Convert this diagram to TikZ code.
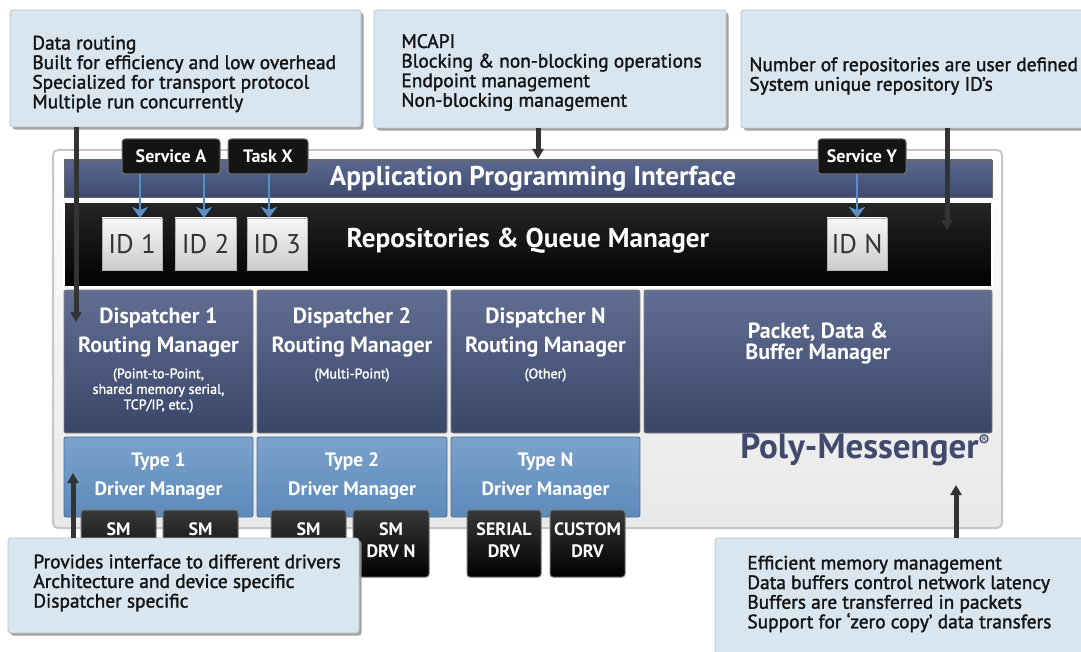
\documentclass[tikz,border=0pt]{standalone}
\usepackage{fontspec}
\setmainfont{PT Sans}
\newfontfamily\semibfont[FakeBold=1.6]{PT Sans}
\usetikzlibrary{fit,arrows.meta,shadows}
\definecolor{calloutfill}{HTML}{D9E6EF}
\definecolor{calloutedge}{HTML}{B8C4CC}
\definecolor{connc}{HTML}{333333}
\definecolor{apitop}{HTML}{5A6890}
\definecolor{apibot}{HTML}{3E4A70}
\definecolor{disptop}{HTML}{616E92}
\definecolor{dispbot}{HTML}{3A4668}
\definecolor{drvtop}{HTML}{7AA2CC}
\definecolor{drvbot}{HTML}{5E8ABA}
\definecolor{arrowblue}{HTML}{5B8EC4}
\definecolor{polyc}{HTML}{3F4A6C}
\definecolor{frameedge}{HTML}{C6C6C6}
\tikzset{
  bx/.style={inner sep=0pt, outer sep=0pt},
  callout/.style={bx, fill=calloutfill, draw=calloutedge, line width=0.4pt, rounded corners=1.5pt,
     drop shadow={shadow xshift=1.3pt, shadow yshift=-1.3pt, fill=black!40, opacity=0.9}},
  calltext/.style={anchor=west, align=left, inner sep=0pt, font=\semibfont\fontsize{9.7}{9.8}\selectfont, text=black!92},
  frame/.style={bx, draw=frameedge, line width=1pt, rounded corners=2.5pt, top color=white, bottom color=black!9},
  apibar/.style={bx, draw=black!60, line width=0.4pt, top color=apitop, bottom color=apibot},
  repobar/.style={bx, draw=white, line width=0.6pt, top color=black!85, bottom color=black},
  idbox/.style={bx, draw=black!30, line width=0.3pt, top color=black!3, bottom color=black!20},
  idtext/.style={inner sep=0pt, font=\fontsize{13.5}{13.5}\selectfont, text=black!80},
  svc/.style={bx, draw=black!55, line width=0.5pt, rounded corners=1.5pt, fill=black!92},
  svctext/.style={inner sep=0pt, text=white, font=\bfseries\fontsize{9}{9}\selectfont},
  disp/.style={bx, draw=black!50, line width=0.4pt, rounded corners=1pt, top color=disptop, bottom color=dispbot},
  drvm/.style={bx, draw=drvbot!80!black, line width=0.4pt, rounded corners=1pt, top color=drvtop, bottom color=drvbot},
  smbox/.style={bx, draw=black!55, line width=0.5pt, rounded corners=1.5pt, top color=black!78, bottom color=black},
  smtext/.style={inner sep=0pt, text=white, align=center, font=\bfseries\fontsize{9}{11}\selectfont},
  wtitle/.style={inner sep=0pt, text=white, font=\bfseries\fontsize{11}{10.5}\selectfont, align=center},
  wsmall/.style={inner sep=0pt, text=white, font=\semibfont\fontsize{7}{7.75}\selectfont, align=center},
  wtype/.style={inner sep=0pt, text=white, font=\bfseries\fontsize{9.7}{9.7}\selectfont},
  bigwhite/.style={inner sep=0pt, text=white, font=\bfseries\fontsize{13.6}{13.6}\selectfont},
  conn/.style={draw=connc, line width=2.5pt, -{Triangle[width=5.5pt,length=5pt]}},
  bluearr/.style={draw=arrowblue, line width=1.2pt, -{Stealth[width=8pt,length=5.5pt,inset=1.5pt]}}
}
\begin{document}
\begin{tikzpicture}[x=0.5pt,y=-0.5pt]
\useasboundingbox (0,0) rectangle (1081,652);
% main frame
\node[frame, fit={(53,150) (1002,528)}] (frame) {};
\node[apibar, fit={(64,160) (992,197)}] (api) {};
\node[bigwhite] (apit) at (533,179) {Application Programming Interface};
\node[repobar, fit={(64,202) (992,287)}] (repo) {};
\node[bigwhite] (repot) at (528,241) {Repositories \& Queue Manager};
% IDs
\node[idbox, fit={(102,218) (162,270)}] (id1) {};
\node[idtext] (id1t) at (id1.center) {ID 1};
\node[idbox, fit={(175,218) (236,270)}] (id2) {};
\node[idtext] (id2t) at (id2.center) {ID 2};
\node[idbox, fit={(247,218) (307,270)}] (id3) {};
\node[idtext] (id3t) at (id3.center) {ID 3};
\node[idbox, fit={(827,218) (887,270)}] (idn) {};
\node[idtext] (idnt) at (idn.center) {ID N};
% services
\node[svc, fit={(122,139) (220,174)}] (sa) {};
\node[svctext] (sat) at (sa.center) {Service A};
\node[svc, fit={(228,139) (308,174)}] (tx) {};
\node[svctext] (txt) at (tx.center) {Task X};
\node[svc, fit={(818,139) (906,174)}] (sy) {};
\node[svctext] (syt) at (sy.center) {Service Y};
\draw[bluearr] (sa.south -| 140,0) -- (id1.north -| 140,0);
\draw[bluearr] (sa.south -| 204,0) -- (id2.north -| 204,0);
\draw[bluearr] (tx.south -| 269,0) -- (id3.north -| 269,0);
\draw[bluearr] (sy.south -| 857,0) -- (idn.north -| 857,0);
% dispatchers
\node[disp, fit={(64,290) (253,433)}] (d1) {};
\node[disp, fit={(257,290) (447,433)}] (d2) {};
\node[disp, fit={(451,290) (640,433)}] (dn) {};
\node[disp, fit={(644,290) (992,433)}] (pk) {};
\node[wtitle] (d1a) at (158.5,318) {Dispatcher 1};
\node[wtitle] (d1b) at (158.5,347) {Routing Manager};
\node[wsmall, anchor=north] (d1c) at (158.5,368) {(Point-to-Point,\\shared memory serial,\\TCP/IP, etc.)};
\node[wtitle] (d2a) at (352,318) {Dispatcher 2};
\node[wtitle] (d2b) at (352,347) {Routing Manager};
\node[wsmall] (d2c) at (352,375) {(Multi-Point)};
\node[wtitle] (dna) at (545.5,318) {Dispatcher N};
\node[wtitle] (dnb) at (545.5,347) {Routing Manager};
\node[wsmall] (dnc) at (545.5,375) {(Other)};
\node[wtitle] (pkt) at (818,343) {Packet, Data \&\\Buffer Manager};
% driver managers
\node[drvm, fit={(64,437) (253,517)}] (t1) {};
\node[drvm, fit={(257,437) (447,517)}] (t2) {};
\node[drvm, fit={(451,437) (640,517)}] (tn) {};
\node[wtype] (t1a) at (158.5,462) {Type 1};
\node[wtype] (t1b) at (158.5,491) {Driver Manager};
\node[wtype] (t2a) at (352,462) {Type 2};
\node[wtype] (t2b) at (352,491) {Driver Manager};
\node[wtype] (tna) at (545.5,462) {Type N};
\node[wtype] (tnb) at (545.5,491) {Driver Manager};
% SM / DRV boxes
\node[smbox, fit={(81,510) (156,577)}] (sm1) {};
\node[smtext] (sm1t) at (118.5,529) {SM};
\node[smbox, fit={(163,510) (238,577)}] (sm2) {};
\node[smtext] (sm2t) at (200.5,529) {SM};
\node[smbox, fit={(271,510) (346,577)}] (sm3) {};
\node[smtext] (sm3t) at (308.5,529) {SM};
\node[smbox, fit={(353,510) (429,577)}] (sm4) {};
\node[smtext] (sm4t) at (391,540) {SM\\DRV N};
\node[smbox, fit={(467,510) (541,577)}] (ser) {};
\node[smtext] (sert) at (504,540) {SERIAL\\DRV};
\node[smbox, fit={(550,510) (625,577)}] (cus) {};
\node[smtext] (cust) at (587.5,540) {CUSTOM\\DRV};
% logo
\node[inner sep=0pt, text=polyc, font=\bfseries\fontsize{17.5}{17.5}\selectfont] (poly) at (865,450) {Poly-Messenger\raisebox{0.7ex}{\fontsize{8}{8}\selectfont ®}};
% callouts
\node[callout, fit={(10,10) (361,127)}] (tl) {};
\node[calltext] (tlt) at (32,74) {Data routing\\Built for efficiency and low overhead\\Specialized for transport protocol\\Multiple run concurrently};
\node[callout, fit={(374,10) (726,128)}] (tm) {};
\node[calltext] (tmt) at (401,72.5) {MCAPI\\Blocking \& non-blocking operations\\Endpoint management\\Non-blocking management};
\node[callout, fit={(741,10) (1095,128)}] (tr) {};
\node[calltext] (trt) at (749,76) {Number of repositories are user defined\\System unique repository ID’s};
\node[callout, fit={(8,538) (359,633)}] (bl) {};
\node[calltext] (blt) at (33,583) {Provides interface to different drivers\\Architecture and device specific\\Dispatcher specific};
\node[callout, fit={(715,538) (1095,665)}] (br) {};
\node[calltext] (brt) at (747,594) {Efficient memory management\\Data buffers control network latency\\Buffers are transferred in packets\\Support for ‘zero copy’ data transfers};
% connectors
\coordinate (c1) at (76,322);
\coordinate (c2) at (538,159);
\coordinate (c3) at (947,230);
\coordinate (c4) at (73,473);
\coordinate (c5) at (956,485);
\draw[conn] (tl.south -| c1) -- (c1);
\draw[conn] (tm.south -| c2) -- (c2);
\draw[conn] (tr.south -| c3) -- (c3);
\draw[conn] (bl.north -| c4) -- (c4);
\draw[conn] (br.north -| c5) -- (c5);
\end{tikzpicture}
\end{document}
